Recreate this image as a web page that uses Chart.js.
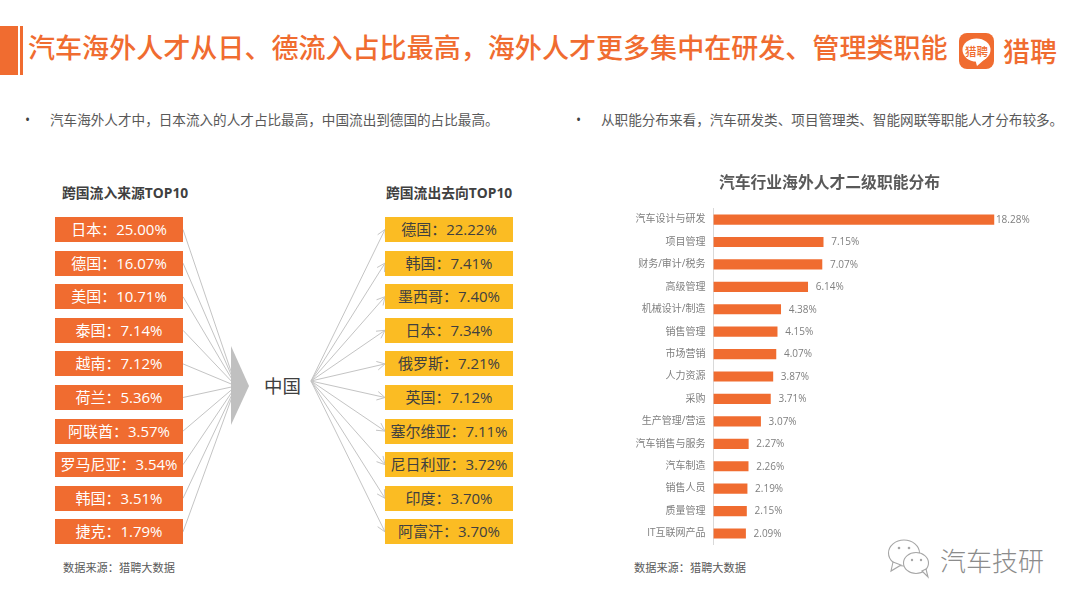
<!DOCTYPE html>
<html lang="zh-CN"><head><meta charset="utf-8">
<script src="https://cdn.jsdelivr.net/npm/chart.js@4"></script>
<style>
html,body{margin:0;padding:0;background:#fff;width:1080px;height:608px;overflow:hidden}
body{position:relative;font-family:"Open Sans","Noto Sans CJK SC",sans-serif}
.t{position:absolute;white-space:nowrap;line-height:1}
.box{position:absolute;width:128px;height:25px;line-height:25px;text-align:center;font-size:15px;white-space:nowrap}
#c{position:absolute;left:620px;top:168px}
svg{position:absolute;left:0;top:0}
</style></head><body>
<svg id="art" width="1080" height="608"></svg>
<div style="position:absolute;left:0;top:26px;width:18px;height:49px;background:#F06C30"></div>
<div style="position:absolute;left:20px;top:26px;width:3px;height:49px;background:#F06C30"></div>
<div class="t" style="left:28px;top:34px;font-size:27.06px;font-weight:500;color:#F06C30">汽车海外人才从日、德流入占比最高，海外人才更多集中在研发、管理类职能</div>
<div class="t" style="left:1003px;top:38px;font-size:27px;font-weight:500;color:#F06C30">猎聘</div>
<div class="t" style="left:965px;top:46px;font-size:11.5px;font-weight:500;color:#F06C30;z-index:2">猎聘</div>
<div class="t" style="left:25px;top:113px;font-size:13.6px;color:#404040">•</div>
<div class="t" style="left:50px;top:113px;font-size:13.6px;color:#595959">汽车海外人才中，日本流入的人才占比最高，中国流出到德国的占比最高。</div>
<div class="t" style="left:576px;top:113px;font-size:13.6px;color:#404040">•</div>
<div class="t" style="left:601px;top:113px;font-size:13.6px;color:#595959">从职能分布来看，汽车研发类、项目管理类、智能网联等职能人才分布较多。</div>
<div class="t" style="left:62px;top:186px;font-size:13.8px;font-weight:700;color:#404040">跨国流入来源TOP10</div>
<div class="t" style="left:386px;top:186px;font-size:13.8px;font-weight:700;color:#404040">跨国流出去向TOP10</div>
<div class="t" style="left:264px;top:377px;font-size:18.5px;color:#404040">中国</div>
<div class="t" style="left:63px;top:562px;font-size:11.2px;color:#595959">数据来源：猎聘大数据</div>
<div class="t" style="left:634px;top:562px;font-size:11.2px;color:#595959">数据来源：猎聘大数据</div>
<div class="t" style="left:940px;top:548px;font-size:26px;font-weight:300;color:#8c8c8c">汽车技研</div>
<div id="boxes"></div>
<canvas id="c" width="419" height="384" style="width:419px;height:384px"></canvas>
<script>
const inflowCountries=["日本","德国","美国","泰国","越南","荷兰","阿联酋","罗马尼亚","韩国","捷克"];
const inflowShares=["25.00%","16.07%","10.71%","7.14%","7.12%","5.36%","3.57%","3.54%","3.51%","1.79%"];
const outflowCountries=["德国","韩国","墨西哥","日本","俄罗斯","英国","塞尔维亚","尼日利亚","印度","阿富汗"];
const outflowShares=["22.22%","7.41%","7.40%","7.34%","7.21%","7.12%","7.11%","3.72%","3.70%","3.70%"];
const roleLabels=["汽车设计与研发","项目管理","财务/审计/税务","高级管理","机械设计/制造","销售管理","市场营销","人力资源","采购","生产管理/营运","汽车销售与服务","汽车制造","销售人员","质量管理","IT互联网产品"];
const roleShares=[18.28,7.15,7.07,6.14,4.38,4.15,4.07,3.87,3.71,3.07,2.27,2.26,2.19,2.15,2.09];

const boxTop=i=>217+i*33.6;
const wrap=document.getElementById('boxes');
function addBoxes(names,vals,left,bg,fg){
  names.forEach((n,i)=>{
    const d=document.createElement('div');d.className='box';
    d.style.cssText=`left:${left}px;top:${boxTop(i)}px;background:${bg};color:${fg}`;
    d.textContent=n+'：'+vals[i];wrap.appendChild(d);
  });
}
addBoxes(inflowCountries,inflowShares,55,'#F06C30','#fff');
addBoxes(outflowCountries,outflowShares,385,'#FBBC23','#404040');

let s='';
const G='#c4c4c4';
inflowCountries.forEach((_,i)=>{
  s+=`<line x1="183" y1="${boxTop(i)+12.5}" x2="236" y2="386" stroke="${G}" stroke-width="1"/>`;
});
s+=`<polygon points="231,346 249,386 231,425" fill="#c0c0c0"/>`;
outflowCountries.forEach((_,i)=>{
  const y=boxTop(i)+12.5,x0=311,y0=381,x=385;
  const a=Math.atan2(y-y0,x-x0),L=9,w=0.5;
  const p=(t)=>`${x-L*Math.cos(a+t)},${y-L*Math.sin(a+t)}`;
  s+=`<line x1="${x0}" y1="${y0}" x2="${x}" y2="${y}" stroke="${G}"/>`;
  s+=`<polyline points="${p(w)} ${x},${y} ${p(-w)}" fill="none" stroke="${G}"/>`;
});
// logo
s+=`<rect x="959" y="33" width="35" height="36" rx="8" fill="#F06C30"/>`;
s+=`<ellipse cx="976.5" cy="50" rx="14" ry="11.5" fill="#fff"/><polygon points="975,59 985,59 977,66" fill="#fff"/>`;
// WeChat watermark
s+=`<g fill="#fff" stroke="#a6a6a6" stroke-width="1.1"><ellipse cx="904" cy="553" rx="15.5" ry="13"/><polygon points="893,562 891,571 901,565"/><ellipse cx="916" cy="563" rx="12.5" ry="10.5"/><polygon points="922,571 928,577 926,569"/></g>`;
s+=`<g fill="#a6a6a6"><circle cx="899" cy="548" r="1.3"/><circle cx="909" cy="548" r="1.3"/><circle cx="912" cy="560" r="1.2"/><circle cx="921" cy="560" r="1.2"/></g>`;
document.getElementById('art').innerHTML=s;

const FONT='"Open Sans","Noto Sans CJK SC",sans-serif';
const valueLabels={
  id:'valueLabels',
  afterDatasetsDraw(chart){
    const {ctx}=chart,meta=chart.getDatasetMeta(0);
    ctx.save();ctx.font='10px '+FONT;ctx.fillStyle='#7f7f7f';ctx.textBaseline='middle';
    meta.data.forEach((b,i)=>{
      ctx.fillText(roleShares[i].toFixed(2)+'%',b.x+(i===0?2:8),b.y+0.5);
    });
    ctx.restore();
  }
};
new Chart(document.getElementById('c'),{
  type:'bar',
  data:{labels:roleLabels,datasets:[{data:roleShares,backgroundColor:'#F06C30',barThickness:9.5}]},
  plugins:[valueLabels],
  options:{
    indexAxis:'y',responsive:false,animation:false,devicePixelRatio:1,
    layout:{padding:{top:6,bottom:7.3,left:0,right:0}},
    plugins:{legend:{display:false},tooltip:{enabled:false},
      title:{display:true,text:'汽车行业海外人才二级职能分布',color:'#595959',
        font:{family:FONT,size:15.8,weight:'bold'},padding:{top:0,bottom:15.4}}},
    scales:{
      x:{display:false,min:0,max:21.22},
      y:{grid:{display:false},border:{display:true,color:'#d9d9d9'},
        ticks:{color:'#7f7f7f',font:{family:FONT,size:10},padding:0,autoSkip:false},
        afterFit(a){a.width=93.5;}}
    }
  }
});
</script>
</body></html>
